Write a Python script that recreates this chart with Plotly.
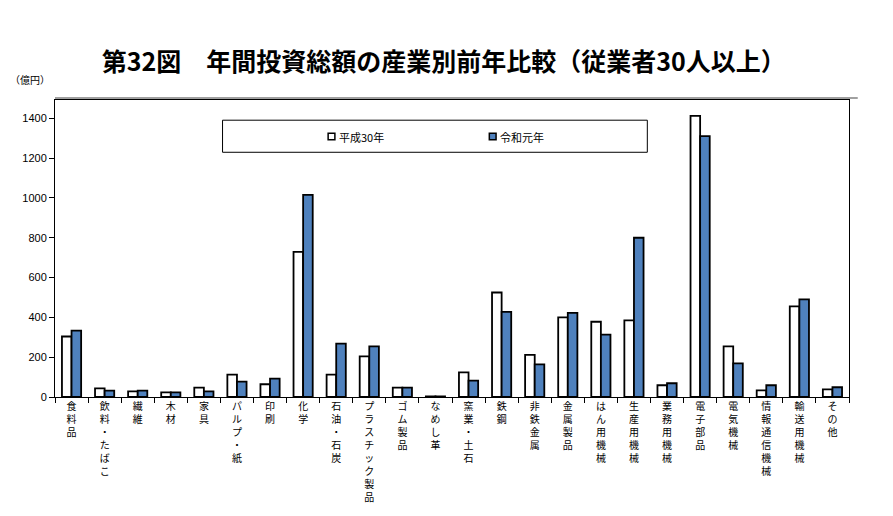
import plotly.graph_objects as go

# 産業分類
categories = ['食料品', '飲料・たばこ', '繊維', '木材', '家具', 'パルプ・紙', '印刷', '化学',
              '石油・石炭', 'プラスチック製品', 'ゴム製品', 'なめし革', '窯業・土石', '鉄鋼',
              '非鉄金属', '金属製品', 'はん用機械', '生産用機械', '業務用機械', '電子部品',
              '電気機械', '情報通信機械', '輸送用機械', 'その他']

# 億円
h30 = [304, 43, 28, 23, 47, 112, 64, 729, 112, 204, 47, 3, 124, 525,
       212, 400, 378, 385, 59, 1412, 254, 33, 455, 38]
r1 = [333, 32, 32, 23, 28, 77, 92, 1015, 268, 254, 47, 3, 82, 428,
      164, 423, 313, 800, 69, 1311, 169, 59, 490, 49]

series_names = ['平成30年', '令和元年']
y_ticks = [0, 200, 400, 600, 800, 1000, 1200, 1400]

jp = 'Noto Sans CJK JP'
colors = ['white', '#4F81BD']

# tategaki labels: one character per line
vlabels = ['<br>'.join(c) for c in categories]

fig = go.Figure()
fig.add_trace(go.Bar(x=vlabels, y=h30, name=series_names[0],
                     marker=dict(color=colors[0], line=dict(color='black', width=1.8))))
fig.add_trace(go.Bar(x=vlabels, y=r1, name=series_names[1],
                     marker=dict(color=colors[1], line=dict(color='black', width=1.8))))

fig.update_layout(
    width=893, height=516,
    margin=dict(l=47, r=52, t=92, b=127, autoexpand=False),
    paper_bgcolor='white', plot_bgcolor='white',
    barmode='group', bargap=0.42, bargroupgap=0,
    font=dict(family=jp, color='black'),
    title=dict(text='<b>第32図　年間投資総額の産業別前年比較（従業者30人以上）</b>',
               x=0.488, xanchor='center', y=0.894, yanchor='middle',
               font=dict(size=25, family=jp)),
    showlegend=False,
)

fig.update_xaxes(showline=True, linecolor='black', linewidth=1, mirror=True,
                 ticks='outside', ticklen=5, tickcolor='black', tickson='boundaries',
                 tickangle=0, automargin=False,
                 tickfont=dict(size=10, family='Liberation Sans, Noto Sans CJK JP'))
fig.update_yaxes(range=[0, 1492], tickvals=y_ticks, showgrid=False, zeroline=False,
                 showline=True, linecolor='black', linewidth=1, mirror=True,
                 ticks='outside', ticklen=5, tickcolor='black', automargin=False,
                 tickfont=dict(size=11, family='Liberation Sans'))

# legend frame and entries drawn by hand
fig.add_shape(type='rect', xref='paper', yref='paper', x0=0.211, x1=0.746, y0=0.824, y1=0.932,
              line=dict(color='black', width=1))
for name, col, x0 in zip(series_names, colors, [0.344, 0.547]):
    fig.add_shape(type='rect', xref='paper', yref='paper', x0=x0, x1=x0 + 0.0085,
                  y0=0.866, y1=0.888, fillcolor=col, line=dict(color='black', width=1.5))
    fig.add_annotation(text=name, xref='paper', yref='paper', x=x0 + 0.011, y=0.877,
                       xanchor='left', yanchor='middle', showarrow=False,
                       font=dict(size=11, family=jp))

# top double line and small tick at right
fig.add_shape(type='line', xref='paper', yref='paper', x0=0, x1=1.011, y0=1.007, y1=1.007,
              line=dict(color='#808080', width=1.5))

fig.add_annotation(text='（億円）', xref='paper', yref='paper', x=-0.059, y=1.07,
                   xanchor='left', yanchor='middle', showarrow=False,
                   font=dict(size=10, family=jp))

fig.write_html('out.html')
